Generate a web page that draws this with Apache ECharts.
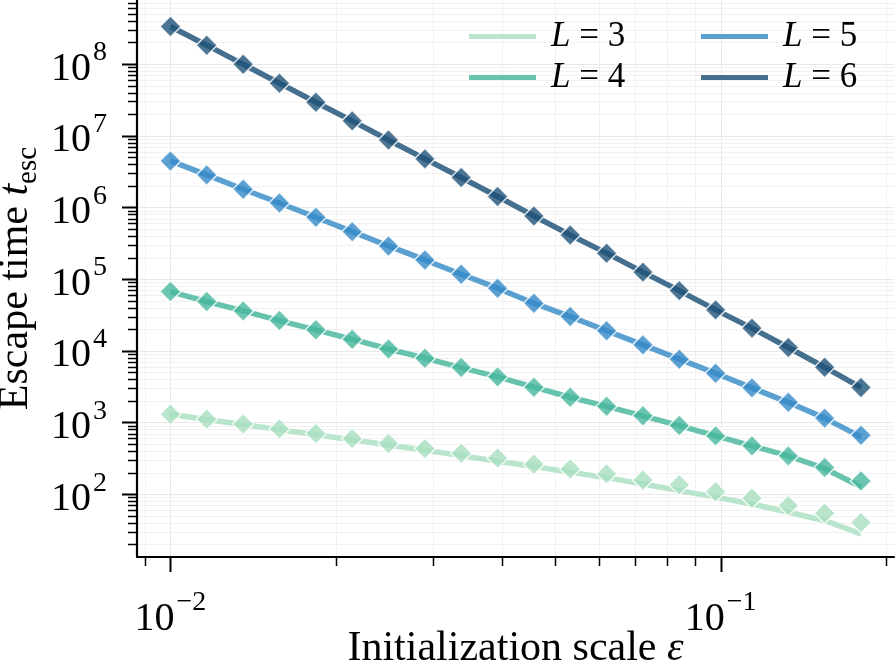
<!DOCTYPE html>
<html>
<head>
<meta charset="utf-8">
<script src="https://cdn.jsdelivr.net/npm/echarts@6/dist/echarts.min.js"></script>
<style>
  html, body { margin: 0; padding: 0; background: #fff; }
  #chart { width: 895px; height: 664px; }
</style>
</head>
<body>
<div id="chart"></div>
<script>
// 初始化尺度 ε (x)
const epsValues = [0.01, 0.01164, 0.01356, 0.01578, 0.01838, 0.0214, 0.02491, 0.02901, 0.03377, 0.03932,
  0.04578, 0.0533, 0.06206, 0.07226, 0.08413, 0.09796, 0.11405, 0.13279, 0.15461, 0.18];

// 测得的逃逸时间 (菱形点)
const measL3 = [1306, 1112, 955, 815, 700, 596, 508, 432, 373, 319, 262, 225, 192, 158, 135, 108, 88, 69.3, 54.3, 40.2];
const measL4 = [67000, 48600, 36000, 26400, 19600, 14500, 10600, 7890, 5830, 4330, 3110, 2250, 1680, 1240, 906, 650, 472, 342, 235, 153];
const measL5 = [4.45e6, 2.84e6, 1.79e6, 1.15e6, 7.3e5, 4.59e5, 2.9e5, 1.85e5, 1.17e5, 7.47e4, 4.61e4, 3.0e4, 1.9e4, 1.21e4, 7640, 4870, 3040, 1910, 1150, 665];
const measL6 = [3.33e8, 1.83e8, 9.9e7, 5.4e7, 2.93e7, 1.61e7, 8.7e6, 4.75e6, 2.61e6, 1.42e6, 7.6e5, 4.13e5, 2.3e5, 1.25e5, 6.9e4, 3.72e4, 2.07e4, 1.11e4, 5900, 3070];

// 理论曲线 (实线)
const theoL3 = [1300, 1100, 935, 795, 675, 572, 485, 410, 345, 288, 243, 203, 170, 139, 112, 91, 73, 56, 43, 28];
const theoL4 = [67000, 48600, 36000, 26400, 19600, 14500, 10600, 7890, 5830, 4330, 3110, 2250, 1680, 1240, 906, 650, 472, 342, 228, 127];
const theoL5 = [4.45e6, 2.84e6, 1.79e6, 1.15e6, 7.3e5, 4.59e5, 2.9e5, 1.85e5, 1.17e5, 7.47e4, 4.61e4, 3.0e4, 1.9e4, 1.21e4, 7640, 4870, 3040, 1910, 1150, 630];
const theoL6 = [3.33e8, 1.83e8, 9.9e7, 5.4e7, 2.93e7, 1.61e7, 8.7e6, 4.75e6, 2.61e6, 1.42e6, 7.6e5, 4.13e5, 2.3e5, 1.25e5, 6.9e4, 3.72e4, 2.07e4, 1.11e4, 5900, 3070];

const seriesNames = ['L3', 'L4', 'L5', 'L6'];
const seriesLabels = ['3', '4', '5', '6'];
const lineColors = ['#b9e5cc', '#67c3ae', '#5aa0d1', '#446f8f'];
const markerColors = ['#a8dfc1', '#46b69c', '#338ac7', '#1f5178'];

// 刻度
const xMajorTicks = [0.01, 0.1];
const yMajorTicks = [1e2, 1e3, 1e4, 1e5, 1e6, 1e7, 1e8];

const xMin = 0.008693, xMax = 0.2067;
const yMin = 13.3, yMax = 7.81e8;

const FONT = 'Liberation Serif';
const gridLeft = 137, gridTop = 0, gridRight = 894, gridBottom = 557;

const theo = [theoL3, theoL4, theoL5, theoL6];
const meas = [measL3, measL4, measL5, measL6];

function isPow10(v) {
  const e = Math.log10(v);
  return Math.abs(e - Math.round(e)) < 1e-6;
}
function powLabel(v) {
  if (!isPow10(v)) return '';
  const e = Math.round(Math.log10(v));
  return '{b|10}{s|' + (e < 0 ? '\u2212' + (-e) : e) + '}';
}
const labelRich = {
  b: { fontFamily: FONT, fontSize: 40, lineHeight: 50, verticalAlign: 'bottom', color: '#000' },
  s: { fontFamily: FONT, fontSize: 28, lineHeight: 28, verticalAlign: 'top', color: '#000', padding: [0, 0, 0, 2] }
};

const series = [];
seriesNames.forEach((name, k) => {
  series.push({
    name: name,
    type: 'line',
    symbol: 'none',
    z: 2,
    lineStyle: { width: 5.5, color: lineColors[k] },
    itemStyle: { color: lineColors[k] },
    data: epsValues.map((x, i) => [x, theo[k][i]])
  });
});
seriesNames.forEach((name, k) => {
  series.push({
    name: name + '_pts',
    type: 'scatter',
    symbol: 'diamond',
    symbolSize: 21,
    z: 3,
    itemStyle: { color: markerColors[k], borderColor: '#fff', borderWidth: 1.5 },
    data: epsValues.map((x, i) => [x, meas[k][i]])
  });
});

const legendCommon = {
  orient: 'vertical',
  top: 19,
  padding: 0,
  icon: 'rect',
  itemWidth: 67,
  itemHeight: 5,
  itemGap: 6,
  formatter: name => '{i|L}{r| = ' + seriesLabels[seriesNames.indexOf(name)] + '}',
  textStyle: {
    padding: [0, 0, 0, 10],
    lineHeight: 34,
    rich: {
      i: { fontFamily: FONT, fontStyle: 'italic', fontSize: 35, color: '#000' },
      r: { fontFamily: FONT, fontSize: 35, color: '#000' }
    }
  }
};

const option = {
  animation: false,
  backgroundColor: '#fff',
  grid: {
    left: gridLeft, top: gridTop, right: 895 - gridRight, bottom: 664 - gridBottom,
    containLabel: false, outerBoundsMode: 'none'
  },
  legend: [
    Object.assign({}, legendCommon, { left: 469, data: ['L3', 'L4'] }),
    Object.assign({}, legendCommon, { left: 701, data: ['L5', 'L6'] })
  ],
  xAxis: {
    type: 'log',
    min: xMin,
    max: xMax,
    axisLine: { show: true, lineStyle: { color: '#000', width: 2.2 } },
    axisTick: { show: false },
    splitLine: { show: false },
    axisLabel: { margin: 32, formatter: powLabel, rich: labelRich },
    name: '{r|Initialization scale }{i|\u03b5}',
    nameLocation: 'middle',
    nameGap: 71,
    nameMoveOverlap: false,
    nameTextStyle: {
      rich: {
        r: { fontFamily: FONT, fontSize: 42, color: '#000' },
        i: { fontFamily: FONT, fontStyle: 'italic', fontSize: 42, color: '#000' }
      }
    }
  },
  yAxis: {
    type: 'log',
    min: yMin,
    max: yMax,
    axisLine: { show: true, lineStyle: { color: '#000', width: 2.2 } },
    axisTick: { show: false },
    splitLine: { show: false },
    axisLabel: { margin: 30, formatter: powLabel, rich: labelRich },
    name: '{r|Escape time }{i|t}{s|esc}',
    nameLocation: 'middle',
    nameRotate: 90,
    nameGap: 94,
    nameMoveOverlap: false,
    nameTextStyle: {
      rich: {
        r: { fontFamily: FONT, fontSize: 42, lineHeight: 48, verticalAlign: 'top', color: '#000' },
        i: { fontFamily: FONT, fontStyle: 'italic', fontSize: 42, lineHeight: 48, verticalAlign: 'top', color: '#000' },
        s: { fontFamily: FONT, fontSize: 29, lineHeight: 29, verticalAlign: 'bottom', color: '#000' }
      }
    }
  },
  series: series
};

const chart = echarts.init(document.getElementById('chart'));
chart.setOption(option);

// 次刻度与网格线 (对数轴 2..9)
function tickValues(lo, hi) {
  const out = [];
  for (let d = Math.floor(Math.log10(lo)); d <= Math.ceil(Math.log10(hi)); d++) {
    for (let m = 1; m <= 9; m++) {
      const v = m * Math.pow(10, d);
      if (v >= lo && v <= hi) out.push({ v: v, major: m === 1 });
    }
  }
  return out;
}
const graphics = [];
tickValues(xMin, xMax).forEach(t => {
  const px = Math.round(chart.convertToPixel({ xAxisIndex: 0 }, t.v)) + 0.5;
  graphics.push({
    type: 'line', silent: true, z: 0,
    shape: { x1: px, y1: gridTop, x2: px, y2: gridBottom },
    style: { stroke: t.major ? '#e8e8e8' : '#f1f1f1', lineWidth: 1 }
  });
  graphics.push({
    type: 'line', silent: true, z: 10,
    shape: { x1: px, y1: gridBottom, x2: px, y2: gridBottom + (t.major ? 15 : 9) },
    style: { stroke: '#000', lineWidth: t.major ? 2 : 1.5 }
  });
});
tickValues(yMin, yMax).forEach(t => {
  const py = Math.round(chart.convertToPixel({ yAxisIndex: 0 }, t.v)) + 0.5;
  graphics.push({
    type: 'line', silent: true, z: 0,
    shape: { x1: gridLeft, y1: py, x2: gridRight, y2: py },
    style: { stroke: t.major ? '#e8e8e8' : '#f1f1f1', lineWidth: 1 }
  });
  graphics.push({
    type: 'line', silent: true, z: 10,
    shape: { x1: gridLeft - (t.major ? 15 : 9), y1: py, x2: gridLeft, y2: py },
    style: { stroke: '#000', lineWidth: t.major ? 2 : 1.5 }
  });
});
chart.setOption({ graphic: graphics });
</script>
</body>
</html>
